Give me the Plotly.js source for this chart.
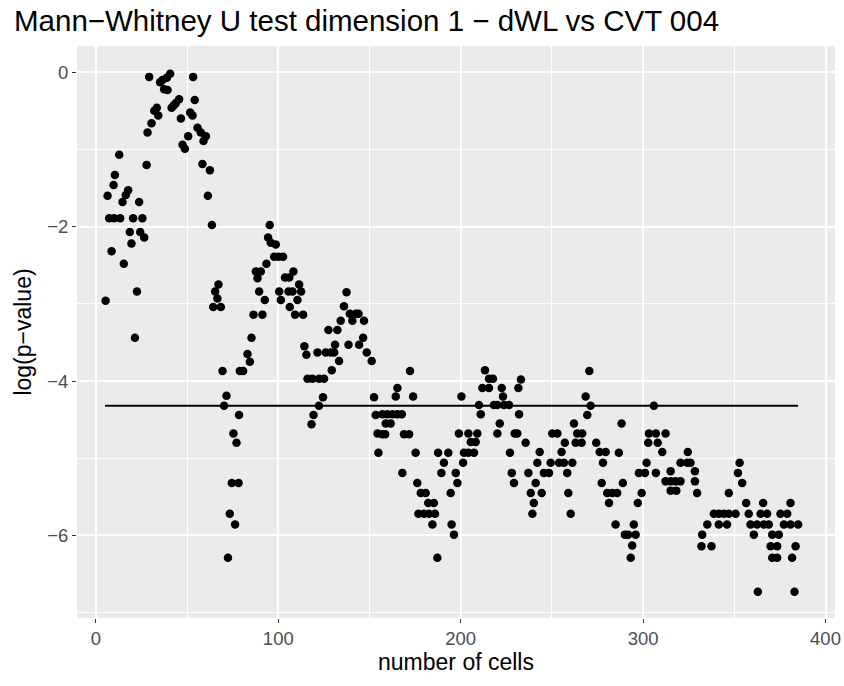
<!DOCTYPE html>
<html>
<head>
<meta charset="utf-8">
<script src="https://cdn.plot.ly/plotly-3.0.1.min.js"></script>
<style>
  html, body { margin: 0; padding: 0; background: #ffffff; }
  #chart { width: 844px; height: 686px; }
</style>
</head>
<body>
<div id="chart"></div>
<script>
// Number of cells for each test
const cellCounts = [
  5.3, 6.4, 7.3, 8.6, 9.7, 10.0, 10.4, 12.8, 13.3, 14.6, 15.3, 16.4, 17.7, 18.6, 19.5, 20.4,
  21.4, 22.5, 23.7, 24.3, 25.5, 26.5, 27.8, 28.3, 29.2, 30.5, 32.0, 33.4, 34.2, 35.2, 36.5,
  37.4, 38.9, 39.3, 40.7, 41.5, 42.6, 43.8, 45.6, 46.6, 47.5, 48.8, 50.6, 51.7, 53.0, 53.3,
  54.2, 55.7, 57.5, 58.4, 59.0, 60.3, 61.4, 62.5, 63.6, 64.3, 65.4, 66.6, 67.2, 68.5, 69.4,
  70.3, 71.6, 72.4, 73.4, 74.5, 75.4, 76.3, 77.1, 78.2, 78.5, 78.9, 80.7, 83.1, 84.4, 85.3,
  86.4, 87.7, 88.6, 89.5, 90.4, 91.3, 92.6, 93.5, 94.4, 95.3, 95.9, 97.7, 98.6, 100.1, 100.5,
  101.4, 102.6, 103.7, 105.6, 106.0, 106.3, 107.8, 108.3, 109.2, 110.5, 111.4, 112.5, 113.6,
  114.3, 115.4, 116.0, 118.2, 118.7, 119.3, 121.5, 122.3, 122.3, 124.5, 125.1, 126.0, 127.5,
  128.8, 129.3, 130.6, 131.1, 132.4, 133.3, 134.2, 136.0, 137.4, 138.5, 139.2, 140.6, 142.5,
  144.0, 144.3, 146.5, 147.0, 148.5, 151.2, 152.5, 153.4, 154.4, 154.9, 157.1, 157.1, 158.6,
  158.9, 159.8, 161.6, 162.6, 164.4, 165.3, 165.3, 167.7, 168.0, 168.9, 171.7, 172.2, 173.9,
  175.3, 176.2, 176.8, 178.1, 179.9, 180.8, 182.2, 182.6, 184.5, 185.3, 185.9, 187.2, 187.6,
  189.4, 190.8, 193.2, 194.5, 195.0, 196.3, 197.3, 198.2, 199.0, 200.4, 201.3, 201.8, 204.2,
  204.2, 205.5, 207.3, 208.2, 209.1, 210.0, 211.0, 211.9, 213.3, 215.5, 215.5, 217.7, 218.2,
  220.1, 220.1, 221.4, 222.5, 223.2, 223.7, 226.5, 227.0, 228.0, 229.2, 229.6, 231.0, 231.6,
  232.0, 233.0, 235.6, 237.1, 238.4, 239.3, 240.1, 241.1, 242.0, 243.3, 244.4, 245.6, 248.4,
  249.3, 250.2, 253.0, 253.9, 255.3, 256.6, 257.1, 258.4, 259.0, 260.3, 261.2, 262.1, 263.0,
  263.9, 266.3, 266.6, 268.5, 269.4, 270.5, 271.2, 274.3, 276.2, 277.3, 278.0, 279.5, 280.3,
  281.3, 283.1, 284.9, 285.8, 286.7, 288.2, 288.9, 290.0, 291.8, 293.2, 294.0, 294.9, 295.9,
  297.1, 297.7, 299.2, 301.0, 301.9, 302.8, 303.2, 305.9, 307.0, 307.0, 308.0, 310.5, 312.3,
  312.3, 315.1, 315.1, 315.1, 317.8, 318.2, 320.5, 320.5, 324.2, 324.5, 326.0, 328.4, 328.4,
  329.6, 332.0, 332.4, 335.2, 337.5, 338.8, 341.5, 341.5, 344.3, 346.0, 347.0, 347.0, 350.7,
  352.0, 352.9, 354.3, 356.5, 357.9, 358.9, 360.7, 362.5, 362.9, 364.4, 365.8, 366.2, 368.0,
  368.9, 369.9, 370.8, 370.8, 373.5, 373.5, 374.4, 375.3, 377.2, 379.0, 380.8, 380.8, 381.7,
  383.0, 383.6, 385.0
];

// log(p-value) of the Mann-Whitney U test at each cell count
const logPValues = [
  -2.96, -1.60, -1.89, -2.32, -1.46, -1.89, -1.33, -1.07, -1.89, -1.68, -2.48, -1.59, -1.53, -2.07, -2.22, -1.89,
  -3.44, -2.84, -1.68, -2.07, -1.89, -2.14, -1.20, -0.78, -0.06, -0.66, -0.50, -0.46, -0.56, -0.13, -0.10,
  -0.22, -0.07, -0.23, -0.02, -0.46, -0.43, -0.40, -0.35, -0.60, -0.94, -0.99, -0.83, -0.52, -0.56, -0.06,
  -0.36, -0.72, -0.78, -1.19, -0.89, -0.83, -1.60, -1.27, -1.98, -3.04, -2.84, -2.93, -2.75, -3.04, -3.87,
  -4.32, -4.19, -6.29, -5.72, -5.32, -4.68, -5.86, -4.80, -5.32, -4.44, -3.87, -3.87, -3.65, -3.75, -3.44,
  -3.14, -2.58, -2.67, -2.84, -2.58, -3.14, -2.95, -2.48, -2.14, -1.98, -2.21, -2.39, -2.23, -2.39, -2.84,
  -2.95, -2.39, -2.66, -2.84, -2.66, -3.04, -2.84, -2.58, -3.14, -2.95, -2.75, -2.84, -3.14,
  -3.55, -3.66, -3.97, -4.56, -3.97, -4.44, -3.63, -3.97, -4.32, -4.21, -3.97, -3.63, -3.34,
  -3.63, -3.86, -3.63, -3.53, -3.34, -3.74, -3.22, -3.03, -2.85, -3.53, -3.13, -3.22, -3.13,
  -3.13, -3.53, -3.44, -3.22, -3.63, -3.74, -4.21, -4.44, -4.68, -4.93, -4.43, -4.69, -4.69,
  -4.55, -4.43, -4.55, -4.43, -4.20, -4.09, -4.43, -4.43, -5.19, -4.69, -4.69, -3.87, -4.20,
  -4.93, -5.32, -5.72, -5.45, -5.72, -5.45, -5.58, -5.72, -5.86, -5.58, -5.72, -6.29, -4.93,
  -5.19, -5.06, -4.93, -5.45, -5.86, -5.99, -5.19, -5.32, -4.68, -4.20, -5.06, -4.93, -4.93,
  -4.68, -4.79, -4.93, -4.79, -4.68, -4.31, -4.43, -4.09, -3.86, -3.97, -4.09, -3.97, -4.31,
  -4.31, -4.68, -4.55, -4.09, -4.20, -4.31, -4.31, -4.93, -5.19, -5.32, -4.68, -4.68, -4.09,
  -4.43, -3.98, -4.80, -5.19, -5.45, -5.72, -5.58, -5.32, -5.06, -4.92, -5.45, -5.19, -5.19,
  -5.06, -4.68, -4.68, -5.06, -4.92, -5.06, -4.80, -5.19, -5.45, -5.72, -5.06, -4.55, -4.80,
  -4.68, -4.80, -4.68, -4.20, -4.44, -3.87, -4.32, -4.80, -4.92, -5.32, -5.06, -4.92, -5.45,
  -5.58, -5.45, -5.86, -5.45, -4.93, -4.55, -5.32, -5.99, -5.99, -6.29, -6.13, -5.86, -5.99,
  -5.58, -5.19, -5.45, -5.19, -5.06, -4.80, -4.68, -4.32, -4.68, -5.19, -4.80, -4.92, -4.68,
  -5.30, -5.17, -5.30, -5.42, -5.30, -5.42, -5.06, -5.30, -5.06, -4.92, -5.06, -5.17, -5.30,
  -5.45, -6.14, -5.99, -5.86, -6.14, -5.72, -5.72, -5.86, -5.72, -5.86, -5.72, -5.45, -5.72,
  -5.19, -5.06, -5.32, -5.58, -5.72, -5.86, -5.99, -5.86, -6.73, -5.72, -5.58, -5.86, -5.72,
  -5.86, -6.14, -5.99, -6.29, -6.14, -6.29, -5.99, -5.72, -5.86, -5.72, -5.58, -5.86, -6.29,
  -6.73, -6.14, -5.86
];

// Significance threshold drawn as a horizontal reference line
const thresholdX = [5, 385];
const thresholdY = [-4.32, -4.32];

const xTicks = [0, 100, 200, 300, 400];
const yTicks = [0, -2, -4, -6];

const points = {
  x: cellCounts,
  y: logPValues,
  type: 'scatter',
  mode: 'markers',
  marker: { color: '#000000', size: 8.5, line: { width: 0 } },
  hoverinfo: 'x+y',
  showlegend: false
};

const threshold = {
  x: thresholdX,
  y: thresholdY,
  type: 'scatter',
  mode: 'lines',
  line: { color: '#000000', width: 2 },
  hoverinfo: 'skip',
  showlegend: false
};

const font = '"Liberation Sans", Arial, Helvetica, sans-serif';

const layout = {
  width: 844,
  height: 686,
  paper_bgcolor: '#ffffff',
  plot_bgcolor: '#ebebeb',
  margin: { l: 77, r: 9, t: 46, b: 68, pad: 0 },
  font: { family: font, color: '#000000' },
  title: {
    text: 'Mann\u2212Whitney U test dimension 1 \u2212 dWL vs CVT 004',
    font: { family: font, size: 29.5, color: '#000000' },
    x: 14 / 844,
    xanchor: 'left',
    xref: 'container',
    y: 1 - 21 / 686,
    yanchor: 'middle',
    yref: 'container'
  },
  xaxis: {
    range: [-10.36, 405.2],
    tickvals: xTicks,
    ticktext: xTicks.map(String),
    ticks: 'outside',
    ticklen: 4,
    tickwidth: 1,
    tickcolor: '#333333',
    tickfont: { family: font, size: 18.5, color: '#4d4d4d' },
    showgrid: true,
    gridcolor: '#ffffff',
    gridwidth: 2,
    minor: { dtick: 50, tick0: 0, showgrid: true, gridcolor: '#ffffff', gridwidth: 1, ticks: '' },
    zeroline: false,
    showline: false,
    title: { text: 'number of cells', font: { family: font, size: 23, color: '#000000' }, standoff: 5 }
  },
  yaxis: {
    range: [-7.07, 0.34],
    tickvals: yTicks,
    ticktext: yTicks.map(v => (v < 0 ? '\u2212' + Math.abs(v) : String(v))),
    ticks: 'outside',
    ticklen: 4,
    tickwidth: 1,
    tickcolor: '#333333',
    tickfont: { family: font, size: 18.5, color: '#4d4d4d' },
    showgrid: true,
    gridcolor: '#ffffff',
    gridwidth: 2,
    minor: { dtick: 1, tick0: 0, showgrid: true, gridcolor: '#ffffff', gridwidth: 1, ticks: '' },
    zeroline: false,
    showline: false,
    title: { text: 'log(p\u2212value)', font: { family: font, size: 23, color: '#000000' }, standoff: 9 }
  }
};

Plotly.newPlot('chart', [threshold, points], layout, { displayModeBar: false, staticPlot: true });
</script>
</body>
</html>
